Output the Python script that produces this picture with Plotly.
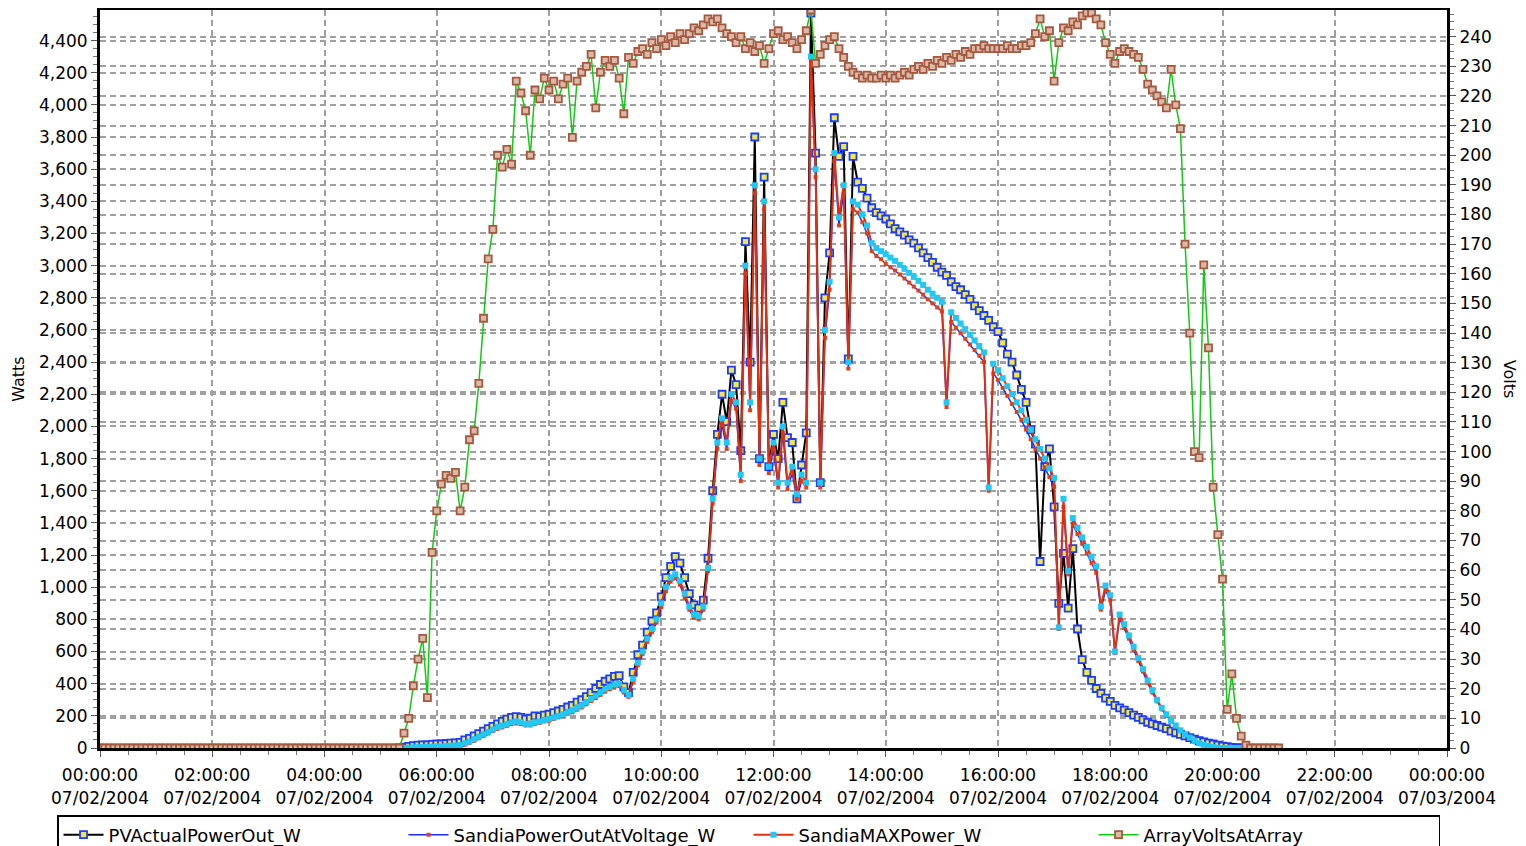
import pandas as pd
import plotly.graph_objects as go

# ---- data (5-minute samples) ----
power_start = "2004-07-02 05:20"
volts_start = "2004-07-02 00:00"

pv_actual = [
    0, 5, 10, 15, 18, 20, 20, 22,
    25, 25, 28, 30, 32, 35, 50, 60, 75, 90, 105, 120,
    135, 150, 165, 180, 190, 195, 190, 180, 185, 200, 195, 205,
    210, 220, 230, 240, 255, 265, 285, 300, 320, 345, 370, 395,
    415, 430, 445, 450, 380, 345, 470, 580, 640, 720, 790, 840,
    940, 1060, 1130, 1190, 1150, 1060, 960, 890, 870, 920, 1180, 1600,
    1950, 2200, 2030, 2350, 2260, 1850, 3150, 2400, 3800, 1800, 3550, 1750,
    1950, 1800, 2150, 1930, 1900, 1550, 1760, 1960, 4570, 3700, 1650, 2800,
    3080, 3920, 3680, 3740, 2420, 3680, 3520, 3480, 3420, 3360, 3330, 3310,
    3290, 3260, 3230, 3210, 3190, 3160, 3140, 3110, 3080, 3050, 3020, 2990,
    2960, 2940, 2900, 2870, 2850, 2820, 2790, 2750, 2720, 2690, 2660, 2620,
    2590, 2520, 2450, 2400, 2320, 2230, 2150, 1980, 1890, 1160, 1750, 1860,
    1500, 900, 1210, 870, 1240, 740, 550, 470, 420, 370, 340, 310,
    290, 265, 250, 235, 220, 205, 190, 175, 160, 150, 140, 130,
    120, 105, 95, 85, 75, 65, 55, 45, 38, 30, 25, 18,
    12, 8, 4, 2, 0, 0,
]

sandia_at_voltage = [
    0, 0, 0, 0, 0, 0, 0, 0,
    0, 0, 0, 0, 0, 0, 20, 32, 45, 60, 75, 90,
    105, 118, 128, 138, 148, 152, 148, 140, 140, 150, 155, 165,
    170, 180, 190, 200, 213, 222, 238, 252, 272, 292, 310, 330,
    350, 365, 380, 385, 345, 318, 415, 515, 585, 660, 720, 780,
    875, 975, 1035, 1055, 1015, 935, 860, 810, 800, 860, 1100, 1520,
    1860, 2010, 1860, 2160, 2110, 1660, 2950, 2100, 3450, 1760, 3350, 1710,
    1860, 1620, 1960, 1610, 1710, 1550, 1660, 1620, 4250, 3550, 1620, 2550,
    2850, 3650, 3250, 3450, 2360, 3350, 3330, 3270, 3200, 3090, 3060, 3040,
    3010, 2990, 2970, 2945, 2920, 2895, 2870, 2845, 2820, 2790, 2765, 2740,
    2715, 2120, 2650, 2615, 2580, 2545, 2510, 2475, 2440, 2400, 1600, 2330,
    2290, 2240, 2190, 2140, 2090, 2040, 1980, 1920, 1860, 1800, 1745, 1685,
    1625, 740, 1500, 1080, 1390, 1330, 1270, 1210, 1150, 1090, 860, 980,
    920, 590, 805, 745, 680, 610, 540, 475, 405, 345, 290, 240,
    200, 165, 135, 105, 80, 60, 42, 28, 18, 10, 5, 2,
    0, 0, 0, 0, 0, 0,
]

sandia_max = [
    0, 0, 2, 4, 5, 6, 8, 8,
    10, 10, 12, 14, 16, 18, 30, 40, 55, 70, 85, 100,
    115, 130, 140, 150, 160, 165, 160, 150, 150, 160, 165, 175,
    180, 190, 200, 210, 225, 235, 250, 265, 285, 305, 325, 345,
    365, 380, 395, 400, 360, 330, 430, 530, 600, 680, 740, 800,
    900, 1000, 1060, 1080, 1040, 960, 880, 830, 820, 880, 1120, 1550,
    1900, 2050, 1900, 2200, 2150, 1700, 3000, 2150, 3500, 1800, 3400, 1750,
    1900, 1650, 2000, 1650, 1750, 1580, 1700, 1650, 4300, 3600, 1650, 2600,
    2900, 3700, 3300, 3500, 2400, 3400, 3380, 3320, 3250, 3140, 3110, 3090,
    3070, 3050, 3030, 3005, 2980, 2955, 2930, 2905, 2880, 2850, 2825, 2800,
    2775, 2150, 2710, 2675, 2640, 2605, 2570, 2535, 2500, 2460, 1620, 2390,
    2350, 2300, 2250, 2200, 2150, 2100, 2040, 1980, 1920, 1860, 1800, 1740,
    1680, 750, 1550, 1100, 1430, 1370, 1310, 1250, 1190, 1130, 880, 1010,
    950, 600, 830, 770, 700, 630, 560, 490, 420, 360, 300, 250,
    210, 170, 140, 110, 85, 65, 45, 30, 20, 12, 6, 2,
    0, 0, 0, 0, 0, 0,
]

array_volts = [
    0, 0, 0, 0, 0, 0, 0, 0, 0, 0, 0, 0,
    0, 0, 0, 0, 0, 0, 0, 0, 0, 0, 0, 0,
    0, 0, 0, 0, 0, 0, 0, 0, 0, 0, 0, 0,
    0, 0, 0, 0, 0, 0, 0, 0, 0, 0, 0, 0,
    0, 0, 0, 0, 0, 0, 0, 0, 0, 0, 0, 0,
    0, 0, 0, 0, 0, 5, 10, 21, 30, 37, 17, 66,
    80, 89, 92, 91, 93, 80, 88, 104, 107, 123, 145, 165,
    175, 200, 196, 202, 197, 225, 221, 215, 200, 222, 219, 226,
    222, 225, 219, 224, 226, 206, 225, 228, 230, 234, 216, 228,
    232, 230, 232, 226, 214, 233, 231, 235, 236, 234, 238, 236,
    239, 237, 240, 238, 241, 239, 241, 243, 242, 244, 246, 245,
    246, 243, 241, 240, 238, 240, 236, 238, 235, 237, 231, 236,
    241, 242, 239, 240, 238, 236, 239, 242, 249, 231, 234, 237,
    239, 240, 236, 233, 230, 228, 227, 226, 227, 226, 226, 227,
    226, 227, 226, 227, 228, 227, 229, 230, 229, 231, 230, 232,
    231, 233, 232, 234, 233, 235, 234, 236, 236, 237, 236, 236,
    236, 236, 237, 236, 236, 237, 237, 238, 241, 246, 240, 242,
    225, 238, 243, 242, 245, 244, 247, 248, 248, 246, 244, 238,
    234, 231, 235, 236, 235, 234, 233, 229, 224, 222, 220, 218,
    216, 229, 217, 209, 170, 140, 100, 98, 163, 135, 88, 72,
    57, 13, 25, 10, 4, 1, 0, 0, 0, 0, 0, 0,
    0,
]

names = ["PVActualPowerOut_W", "SandiaPowerOutAtVoltage_W", "SandiaMAXPower_W", "ArrayVoltsAtArray"]

t_power = pd.date_range(power_start, periods=len(pv_actual), freq="5min")
t_volts = pd.date_range(volts_start, periods=len(array_volts), freq="5min")

FONT = "DejaVu Sans"

fig = go.Figure()
fig.add_trace(go.Scatter(
    x=t_power, y=pv_actual, name=names[0], mode="lines+markers",
    line=dict(color="black", width=2),
    marker=dict(symbol="square", size=7, color="#f2e64a", line=dict(color="#1a3cff", width=1.8)),
))
fig.add_trace(go.Scatter(
    x=t_power[:len(sandia_at_voltage)], y=sandia_at_voltage, name=names[1], mode="lines+markers",
    line=dict(color="#1a2cff", width=1.5),
    marker=dict(symbol="square", size=4, color="#e0401a", line=dict(width=0)),
))
fig.add_trace(go.Scatter(
    x=t_power[:len(sandia_max)], y=sandia_max, name=names[2], mode="lines+markers",
    line=dict(color="#e03010", width=2),
    marker=dict(symbol="square", size=6, color="#22c8f4", line=dict(width=0)),
))
fig.add_trace(go.Scatter(
    x=t_volts, y=array_volts, name=names[3], mode="lines+markers", yaxis="y2",
    line=dict(color="#10cc10", width=1.5),
    marker=dict(symbol="square", size=7, color="#dcb8a8", line=dict(color="#a4583e", width=1.8)),
))

grid = dict(showgrid=True, gridcolor="#a0a0a0", gridwidth=1.5, griddash="6px,4px")
tickfont = dict(family=FONT, size=17, color="black")

fig.update_layout(
    # page body has an 8px margin: figure is sized/offset so the plot lands where the reference has it
    width=1518, height=838,
    margin=dict(l=92, r=79, t=2, b=98, autoexpand=False),
    paper_bgcolor="white", plot_bgcolor="white",
    showlegend=True,
    legend=dict(
        orientation="h", x=-0.0319, xanchor="left", y=-0.0908, yanchor="top",
        bordercolor="black", borderwidth=1.5, bgcolor="white",
        font=dict(family=FONT, size=18, color="black"),
        entrywidth=290, entrywidthmode="pixels", itemwidth=40,
    ),
    xaxis=dict(
        type="date", range=["2004-07-02 00:00", "2004-07-03 00:00"],
        tick0="2004-07-02 00:00", dtick=7200000,
        tickformat="%H:%M:%S<br>%m/%d/%Y", tickfont=tickfont,
        ticks="outside", ticklen=6, tickcolor="#555", ticklabelstandoff=4,
        minor=dict(dtick=1800000, ticks="outside", ticklen=4, tickcolor="#777", showgrid=False),
        showline=True, linecolor="black", linewidth=3, mirror=True,
        zeroline=False, **grid,
    ),
    yaxis=dict(
        range=[0, 4590], dtick=200, tickformat=",d", tickfont=tickfont,
        ticks="outside", ticklen=6, tickcolor="#555",
        minor=dict(dtick=50, ticks="outside", ticklen=4, tickcolor="#777", showgrid=False),
        showline=True, linecolor="black", linewidth=3,
        zeroline=False, **grid,
    ),
    yaxis2=dict(
        range=[0, 249], dtick=10, overlaying="y", side="right", tickfont=tickfont,
        ticks="outside", ticklen=6, tickcolor="#555",
        minor=dict(dtick=2.5, ticks="outside", ticklen=4, tickcolor="#777", showgrid=False),
        showline=True, linecolor="black", linewidth=3,
        zeroline=False, **grid,
    ),
    annotations=[
        dict(text="Watts", x=-0.061, y=0.5, xref="paper", yref="paper", showarrow=False,
             xanchor="center", yanchor="middle",
             textangle=-90, font=dict(family=FONT, size=16, color="black")),
        dict(text="Volts", x=1.047, y=0.5, xref="paper", yref="paper", showarrow=False,
             xanchor="center", yanchor="middle",
             textangle=90, font=dict(family=FONT, size=16, color="black")),
    ],
)

fig.write_html("out.html")
